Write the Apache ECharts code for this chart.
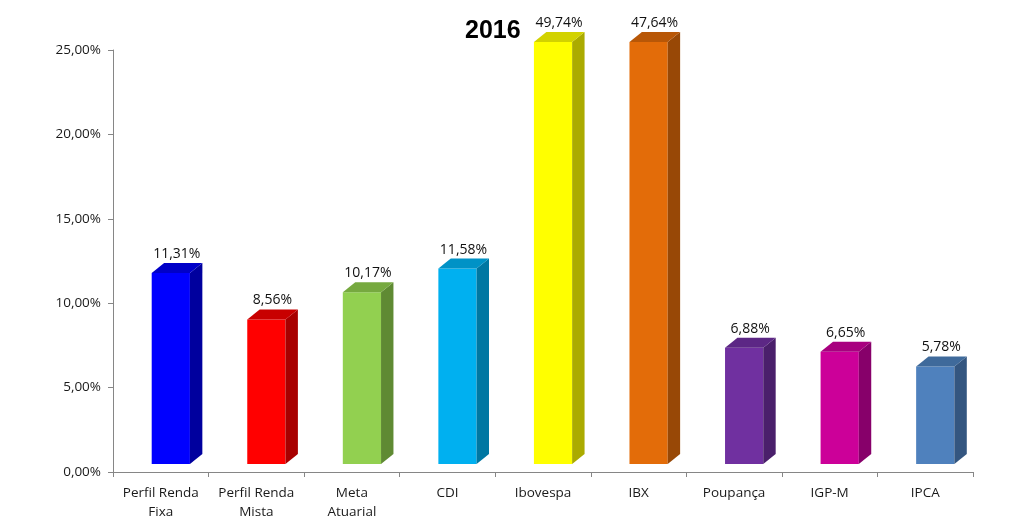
<!DOCTYPE html>
<html>
<head>
<meta charset="utf-8">
<script src="https://cdn.jsdelivr.net/npm/echarts@6/dist/echarts.min.js"></script>
<style>html,body{margin:0;padding:0;background:#fff}#c{width:1024px;height:531px}</style>
</head>
<body>
<div id="c"></div>
<script>
const categories = ['Perfil Renda\nFixa', 'Perfil Renda\nMista', 'Meta\nAtuarial', 'CDI', 'Ibovespa', 'IBX', 'Poupança', 'IGP-M', 'IPCA'];
const values = [11.31, 8.56, 10.17, 11.58, 49.74, 47.64, 6.88, 6.65, 5.78];
const frontColors = ['#0000FF', '#FF0000', '#92D050', '#00B0F0', '#FFFF00', '#E36C09', '#7030A0', '#CC0099', '#4F81BD'];
const sideColors = ['#00009E', '#A80000', '#5F8A33', '#0077A2', '#ABAB00', '#984806', '#4A1F6B', '#87006A', '#345680'];
const topColors = ['#0000C8', '#C80000', '#76A93F', '#0092C6', '#D2D200', '#B85707', '#5C2785', '#A8007F', '#3F6A9B'];
const yTicks = [0, 5, 10, 15, 20, 25];
const titleText = '2016';

const chart = echarts.init(document.getElementById('c'), null, {renderer: 'canvas'});
const fmt = v => v.toFixed(2).replace('.', ',') + '%';
const FONT = '"Open Sans", "Liberation Sans", sans-serif';

chart.setOption({
  animation: false,
  backgroundColor: '#fff',
  title: {
    text: titleText, left: 460, top: 14,
    textStyle: {fontSize: 25, fontWeight: 'bold', color: '#000', fontFamily: '"Liberation Sans", sans-serif'}
  },
  grid: {left: 113, right: 51, top: 50, bottom: 59},
  xAxis: {
    type: 'category', data: categories,
    axisLine: {lineStyle: {color: '#868686', width: 1}},
    axisTick: {show: true, length: 5, lineStyle: {color: '#868686'}},
    axisLabel: {color: '#1a1a1a', fontSize: 13.5, fontFamily: FONT, lineHeight: 19, margin: 12, interval: 0}
  },
  yAxis: {
    type: 'value', min: 0, max: 25, interval: 5,
    splitLine: {show: false},
    axisLine: {show: true, lineStyle: {color: '#868686', width: 1}},
    axisTick: {show: true, length: 5, lineStyle: {color: '#868686'}},
    axisLabel: {color: '#1a1a1a', fontSize: 13.5, fontFamily: FONT, margin: 12, formatter: v => fmt(v)}
  },
  series: [{
    type: 'custom',
    data: values.map((v, i) => [i, v]),
    renderItem: function (params, api) {
      const i = api.value(0);
      const v = api.value(1);
      const vc = Math.min(v, 25);
      const base = api.coord([i, 0]);
      const topP = api.coord([i, vc]);
      const band = api.size([1, 0])[0];
      const w = band * 0.40;
      const dx = band * 0.13;
      const dy = 10;
      const shift = 8;
      const x = base[0] - band * 0.095;
      const yb = base[1] - shift;
      const yt = topP[1] - shift;
      return {
        type: 'group',
        children: [
          {type: 'rect', shape: {x: x, y: yt, width: w, height: yb - yt}, style: {fill: frontColors[i]}},
          {type: 'polygon', shape: {points: [[x + w, yt], [x + w + dx, yt - dy], [x + w + dx, yb - dy], [x + w, yb]]}, style: {fill: sideColors[i]}},
          {type: 'polygon', shape: {points: [[x, yt], [x + dx, yt - dy], [x + w + dx, yt - dy], [x + w, yt]]}, style: {fill: topColors[i]}},
          {type: 'text', style: {text: fmt(v), x: x + w / 2 + 6, y: yt - dy - 9, align: 'center', verticalAlign: 'middle', fill: '#111', fontSize: 14, fontFamily: FONT}}
        ]
      };
    }
  }]
});
</script>
</body>
</html>
